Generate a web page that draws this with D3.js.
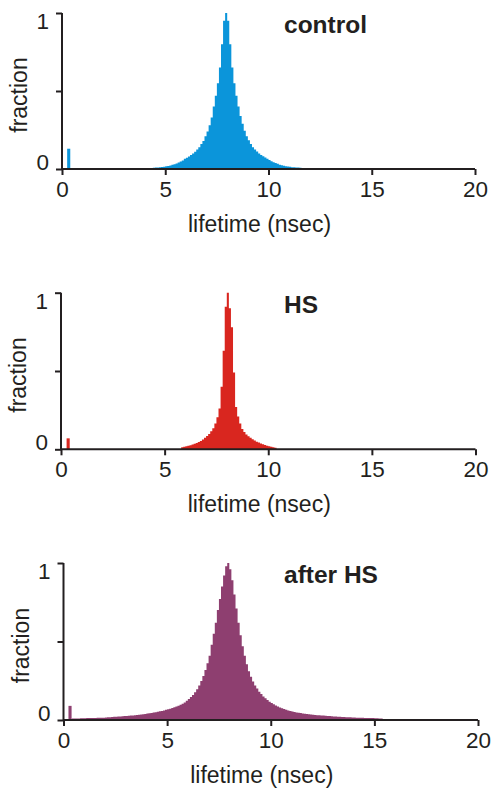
<!DOCTYPE html>
<html>
<head>
<meta charset="utf-8">
<script src="https://cdn.jsdelivr.net/npm/d3@7/dist/d3.min.js"></script>
<style>
  html, body { margin: 0; padding: 0; background: #fff; }
  svg { display: block; font-family: "Liberation Sans", Arial, Helvetica, sans-serif; }
</style>
</head>
<body>
<svg id="chart" width="491" height="788"></svg>
<script>
// ---------- data ----------
const panelNames = ["control", "HS", "after HS"];
const lifetimeTicks = [0, 5, 10, 15, 20];
const fractionTicks = [0, 0.5, 1];
const fractionTickLabels = ["0", "", "1"];
const binWidth = 0.1; // nsec

// control: bins of 0.1 nsec starting at 4.2 nsec
const controlStart = 4.2;
const controlFraction = [
  0.006,0.007,0.008,0.009,0.010,0.011,0.013,0.015,0.017,0.020,
  0.023,0.027,0.031,0.036,0.042,0.048,0.055,0.065,0.072,0.080,
  0.090,0.100,0.110,0.125,0.140,0.160,0.180,0.210,0.240,0.280,
  0.330,0.400,0.470,0.550,0.650,0.800,0.950,1.000,0.950,0.800,
  0.650,0.550,0.470,0.400,0.340,0.290,0.245,0.210,0.185,0.160,
  0.140,0.125,0.112,0.100,0.090,0.081,0.073,0.066,0.057,0.050,
  0.044,0.038,0.033,0.028,0.024,0.021,0.018,0.016,0.014,0.012,
  0.011,0.010,0.009,0.008,0.007,0.006
];
const controlSpike = [0.25, 0.15, 0.13]; // start, width, fraction

// HS: bins of 0.1 nsec starting at 5.8 nsec
const hsStart = 5.8;
const hsFraction = [
  0.013,0.016,0.019,0.022,0.026,0.030,0.035,0.040,0.046,0.053,
  0.062,0.073,0.085,0.098,0.115,0.135,0.165,0.205,0.260,0.400,
  0.630,0.910,1.000,0.900,0.780,0.490,0.270,0.210,0.165,0.130,
  0.110,0.095,0.083,0.074,0.064,0.056,0.049,0.043,0.037,0.032,
  0.027,0.023,0.019,0.016,0.013,0.010
];
const hsSpike = [0.27, 0.15, 0.07];

// after HS: bins of 0.1 nsec starting at 0.4 nsec
const afterStart = 0.4;
const afterFraction = [
  0.010,0.010,0.010,0.010,0.011,0.011,
  0.011,0.012,0.012,0.012,0.013,0.013,0.014,0.014,0.015,0.015,
  0.016,0.017,0.018,0.019,0.020,0.021,0.022,0.023,0.024,0.025,
  0.026,0.027,0.028,0.029,0.030,0.032,0.034,0.035,0.037,0.039,
  0.041,0.043,0.045,0.047,0.049,0.052,0.055,0.058,0.061,0.065,
  0.068,0.072,0.076,0.081,0.086,0.091,0.097,0.104,0.112,0.122,
  0.133,0.146,0.160,0.176,0.196,0.220,0.248,0.280,0.318,0.362,
  0.410,0.480,0.550,0.620,0.700,0.770,0.850,0.920,0.980,1.000,
  0.960,0.890,0.800,0.710,0.620,0.540,0.470,0.410,0.355,0.310,
  0.275,0.245,0.220,0.200,0.180,0.165,0.150,0.138,0.127,0.117,
  0.108,0.100,0.093,0.086,0.080,0.075,0.070,0.065,0.061,0.057,
  0.054,0.051,0.048,0.046,0.044,0.042,0.040,0.038,0.036,0.035,
  0.033,0.032,0.031,0.030,0.029,0.028,0.027,0.026,0.025,0.024,
  0.023,0.022,0.021,0.020,0.019,0.019,0.018,0.017,0.017,0.016,
  0.016,0.015,0.015,0.014,0.014,0.013,0.013,0.012,0.012,0.012,
  0.011,0.011,0.010,0.010
];
const afterSpike = [0.24, 0.15, 0.09];

// ---------- layout / style ----------
const panels = [
  { name: panelNames[0], start: controlStart, values: controlFraction, spike: controlSpike,
    color: "#0b95da", x0: 62, x1: 475, top: 13, base: 169 },
  { name: panelNames[1], start: hsStart, values: hsFraction, spike: hsSpike,
    color: "#d9261f", x0: 61, x1: 475.5, top: 292.7, base: 449.3 },
  { name: panelNames[2], start: afterStart, values: afterFraction, spike: afterSpike,
    color: "#8e3f70", x0: 63.5, x1: 478, top: 563, base: 720 }
];
const axisColor = "#231f20";
const svg = d3.select("#chart");

panels.forEach(p => {
  const g = svg.append("g");
  const x = d3.scaleLinear().domain([0, 20]).range([p.x0, p.x1]);
  const y = d3.scaleLinear().domain([0, 1]).range([p.base, p.top]);

  // histogram as stepped area
  const pts = p.values.map((v, i) => [p.start + i * binWidth, v]);
  pts.push([p.start + p.values.length * binWidth, 0]);
  const area = d3.area()
    .curve(d3.curveStepAfter)
    .x(d => x(d[0]))
    .y0(y(0))
    .y1(d => y(d[1]));
  g.append("path").datum(pts).attr("d", area).attr("fill", p.color);

  // short-lifetime spike
  g.append("rect")
    .attr("x", x(p.spike[0]))
    .attr("width", x(p.spike[0] + p.spike[1]) - x(p.spike[0]))
    .attr("y", y(p.spike[2]))
    .attr("height", y(0) - y(p.spike[2]))
    .attr("fill", p.color);

  // x axis
  const xAxis = d3.axisBottom(x).tickValues(lifetimeTicks).tickSize(6).tickPadding(6)
    .tickFormat(d3.format("d"));
  const gx = g.append("g").attr("transform", `translate(0,${y(0)})`).call(xAxis);
  gx.select(".domain").attr("d", `M${x(0)},0H${x(20)}`).attr("stroke", axisColor).attr("stroke-width", 2);
  gx.selectAll(".tick line").attr("stroke", axisColor).attr("stroke-width", 2);
  gx.selectAll(".tick text").attr("fill", "#231f20").style("font-size", "22.5px")
    .attr("y", 28).attr("dy", null);

  // y axis
  const yAxis = d3.axisLeft(y).tickValues(fractionTicks).tickSize(6)
    .tickFormat((d, i) => fractionTickLabels[i]);
  const gy = g.append("g").attr("transform", `translate(${x(0)},0)`).call(yAxis);
  gy.select(".domain").attr("d", `M0,${y(0)}V${y(1)}`).attr("stroke", axisColor).attr("stroke-width", 2);
  gy.selectAll(".tick line").attr("stroke", axisColor).attr("stroke-width", 2);
  gy.selectAll(".tick text").attr("fill", "#231f20").style("font-size", "22.5px")
    .attr("x", -13)
    .attr("dy", d => d === 1 ? "0.7em" : "0");

  // axis titles
  g.append("text")
    .attr("x", (x(0) + x(20)) / 2 - 9)
    .attr("y", y(0) + 63)
    .attr("text-anchor", "middle")
    .attr("fill", "#231f20")
    .style("font-size", "23px")
    .text("lifetime (nsec)");
  g.append("text")
    .attr("transform", `translate(${x(0) - 35},${(y(0) + y(1)) / 2 + 4}) rotate(-90)`)
    .attr("text-anchor", "middle")
    .attr("fill", "#231f20")
    .style("font-size", "23px")
    .text("fraction");

  // panel title
  g.append("text")
    .attr("x", 284)
    .attr("y", y(1) + 20)
    .attr("fill", "#231f20")
    .style("font-size", "24.5px")
    .style("font-weight", "bold")
    .text(p.name);
});
</script>
</body>
</html>
